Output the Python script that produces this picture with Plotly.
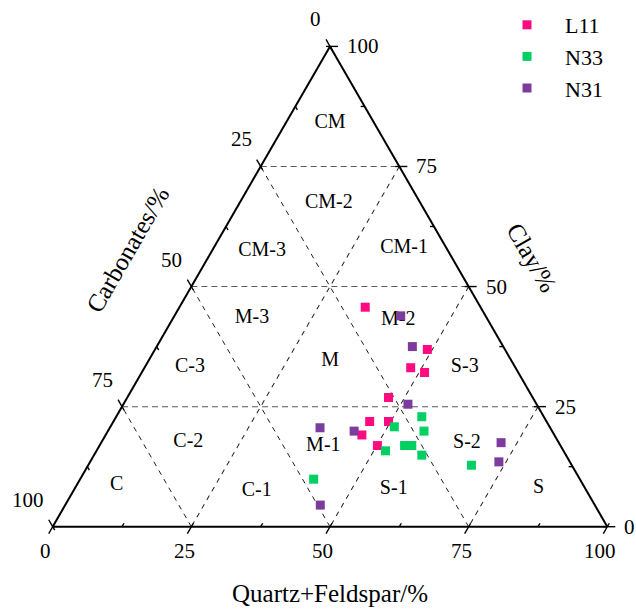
import plotly.graph_objects as go

# ---------------- sample compositions (%) ----------------
# each sample: clay + quartz/feldspar + carbonates = 100
l11_clay = [45.7, 36.9, 33.1, 32.1, 26.9, 21.9, 21.9, 19.1, 16.9]
l11_qf = [33.5, 49.1, 48.0, 51.0, 47.1, 46.2, 49.6, 46.2, 50.1]
l11_carb = [20.8, 14.0, 18.9, 16.9, 26.0, 31.9, 28.5, 34.7, 33.0]

n33_clay = [22.9, 20.8, 19.9, 15.8, 16.9, 16.9, 14.9, 12.8, 9.9]
n33_qf = [55.1, 51.2, 57.0, 52.1, 55.0, 56.3, 59.1, 69.1, 42.1]
n33_carb = [22.0, 28.0, 23.1, 32.1, 28.1, 26.8, 26.0, 18.1, 48.0]

n31_clay = [43.9, 37.5, 25.5, 20.6, 19.9, 17.5, 13.5, 4.5]
n31_qf = [40.8, 46.1, 51.3, 37.9, 44.4, 72.1, 73.7, 46.0]
n31_carb = [15.3, 16.4, 23.2, 41.5, 35.7, 10.4, 12.8, 49.5]

# ---------------- lithofacies fields ----------------
region_names = ["CM", "CM-2", "CM-3", "CM-1", "M-3", "M-2", "M", "C-3",
                "S-3", "C-2", "M-1", "S-2", "C", "C-1", "S-1", "S"]
region_clay = [84.0, 67.4, 57.5, 58.1, 43.5, 43.0, 34.5, 33.3,
               33.2, 17.7, 16.8, 17.4, 8.7, 7.4, 7.8, 8.0]
region_qf = [8.0, 16.1, 9.0, 34.3, 14.2, 40.8, 32.8, 8.1,
             57.7, 15.6, 40.4, 66.0, 7.2, 33.1, 57.6, 83.6]

tick_values = [0, 25, 50, 75, 100]
minor_values = [12.5, 37.5, 62.5, 87.5]

# ---------------- page / triangle geometry ----------------
FIG_W, FIG_H = 636, 609
TRI_X0, TRI_X1, TRI_BASE = 52.7, 607.3, 526.7
SIDE = TRI_X1 - TRI_X0
TRI_H = SIDE * 3 ** 0.5 / 2

SERIF = "Liberation Serif, Times New Roman, serif"
PINK, GREEN, PURPLE = "#ff0a80", "#00d062", "#7b3c9e"


def to_px(clay, qf):
    """Pixel position (from top-left of page) of a composition."""
    return (TRI_X0 + SIDE * (qf + clay / 2) / 100,
            TRI_BASE - TRI_H * clay / 100)


def to_paper(x, y):
    return x / FIG_W, 1 - y / FIG_H


fig = go.Figure()

# field labels
fig.add_trace(go.Scatterternary(
    a=region_clay, c=region_qf,
    b=[100 - a - c for a, c in zip(region_clay, region_qf)],
    mode="text", text=region_names, textposition="middle center",
    textfont=dict(family=SERIF, size=20, color="black"),
    showlegend=False, hoverinfo="skip"))

# samples
for name, clay, qf, carb, col in [("L11", l11_clay, l11_qf, l11_carb, PINK),
                                  ("N33", n33_clay, n33_qf, n33_carb, GREEN),
                                  ("N31", n31_clay, n31_qf, n31_carb, PURPLE)]:
    fig.add_trace(go.Scatterternary(
        a=clay, b=carb, c=qf, mode="markers", name=name,
        marker=dict(symbol="square", size=9, color=col, line=dict(width=0)),
        cliponaxis=False))

# ---------------- ticks and tick labels ----------------
edges = {
    # value -> point on the edge, outward tick direction (screen units)
    "left": (lambda v: to_px(100 - v, 0), (-0.5, -0.866)),    # carbonates
    "bottom": (lambda v: to_px(0, v), (-0.5, 0.866)),         # quartz+feldspar
    "right": (lambda v: to_px(v, 100 - v), (1.0, 0.0)),       # clay
}
shapes, annotations = [], []


def seg(p, u, out_len, in_len):
    x0, y0 = to_paper(p[0] + u[0] * out_len, p[1] + u[1] * out_len)
    x1, y1 = to_paper(p[0] - u[0] * in_len, p[1] - u[1] * in_len)
    return dict(type="line", xref="paper", yref="paper",
                x0=x0, y0=y0, x1=x1, y1=y1,
                line=dict(color="black", width=1.4))


label_style = {
    "left": dict(xanchor="right", yanchor="middle", xshift=-7, yshift=27),
    "bottom": dict(xanchor="center", yanchor="middle", xshift=-7, yshift=-24),
    "right": dict(xanchor="left", yanchor="middle", xshift=15, yshift=0),
}
for side, (pos, u) in edges.items():
    for v in tick_values:
        p = pos(v)
        shapes.append(seg(p, u, 8, 4))
        px, py = to_paper(*p)
        annotations.append(dict(
            x=px, y=py, xref="paper", yref="paper", text=str(v),
            showarrow=False, font=dict(family=SERIF, size=21, color="black"),
            **label_style[side]))
    for v in minor_values:
        shapes.append(seg(pos(v), u, 0, 4))

# axis titles
for text, (x, y), ang in [("Quartz+Feldspar/%", (330, 593), 0),
                          ("Carbonates/%", (128, 250), -60),
                          ("Clay/%", (532, 257), 60)]:
    px, py = to_paper(x, y)
    annotations.append(dict(
        x=px, y=py, xref="paper", yref="paper", text=text, textangle=ang,
        showarrow=False, xanchor="center", yanchor="middle",
        font=dict(family=SERIF, size=25, color="black")))


def axis(grid_color, dash):
    return dict(showline=True, linecolor="black", linewidth=2,
                showgrid=True, gridcolor=grid_color, gridwidth=1, griddash=dash,
                tickmode="linear", tick0=0, dtick=25,
                ticks="", showticklabels=False, title=dict(text=""))


fig.update_layout(
    width=FIG_W, height=FIG_H,
    margin=dict(l=0, r=0, t=0, b=0),
    paper_bgcolor="white", plot_bgcolor="white",
    template="none",
    ternary=dict(
        sum=100, bgcolor="white",
        domain=dict(x=[TRI_X0 / FIG_W, TRI_X1 / FIG_W],
                    y=[(FIG_H - TRI_BASE) / FIG_H,
                       (FIG_H - TRI_BASE + TRI_H) / FIG_H]),
        aaxis=axis("#5a5a5a", "6px,4px"),
        baxis=axis("#202020", "5px,5px"),
        caxis=axis("#202020", "5px,5px"),
    ),
    shapes=shapes,
    annotations=annotations,
    legend=dict(x=489 / FIG_W, y=1 - 4 / FIG_H, xanchor="left", yanchor="top",
                bgcolor="rgba(0,0,0,0)", itemwidth=66,
                font=dict(family=SERIF, size=22, color="black")),
    showlegend=True,
)

fig.write_html("out.html")
